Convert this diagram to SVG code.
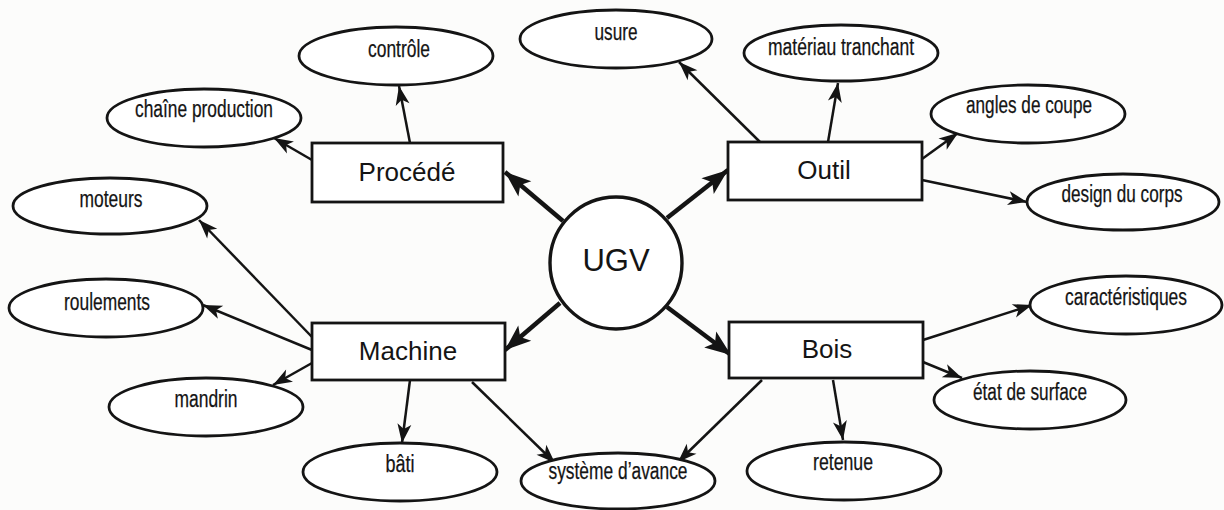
<svg xmlns="http://www.w3.org/2000/svg" width="1224" height="510" viewBox="0 0 1224 510">
<defs>
<style>
.bg{fill:#fcfcfb}
.ell{fill:#ffffff;stroke:#141414;stroke-width:2.8}
.box{fill:#ffffff;stroke:#141414;stroke-width:2.8}
.circ{fill:#ffffff;stroke:#141414;stroke-width:3.4}
.lbl{font-family:"Liberation Sans",Arial,sans-serif;font-size:23px;fill:#141414;stroke:#141414;stroke-width:0.25;text-anchor:middle}
.blbl{font-family:"Liberation Sans",Arial,sans-serif;font-size:26px;fill:#141414;text-anchor:middle}
.ulbl{font-family:"Liberation Sans",Arial,sans-serif;font-size:31px;fill:#141414;text-anchor:middle}
.thin{stroke:#141414;stroke-width:2.5;fill:none;marker-end:url(#ah)}
.thick{stroke:#141414;stroke-width:4.5;fill:none;marker-end:url(#ahb)}
</style>
<marker id="ah" markerUnits="userSpaceOnUse" markerWidth="26" markerHeight="18" viewBox="-22 -9 26 18" refX="0" refY="0" orient="auto">
<path d="M0,0 L-19,-7 L-14,0 L-19,7 Z" fill="#141414"/>
</marker>
<marker id="ahb" markerUnits="userSpaceOnUse" markerWidth="32" markerHeight="24" viewBox="-28 -12 32 24" refX="0" refY="0" orient="auto">
<path d="M0,0 L-26,-10 L-20,0 L-26,10 Z" fill="#141414"/>
</marker>
</defs>
<rect class="bg" x="0" y="0" width="1224" height="510"/>

<g id="connectors">
<line class="thick" x1="563" y1="221" x2="505" y2="172"/>
<line class="thick" x1="667" y1="218" x2="728" y2="170"/>
<line class="thick" x1="560" y1="303" x2="505" y2="350"/>
<line class="thick" x1="667" y1="307" x2="731" y2="355"/>
<line class="thin" x1="312" y1="160" x2="274" y2="138"/>
<line class="thin" x1="410" y1="143" x2="399" y2="86"/>
<line class="thin" x1="760" y1="142" x2="679" y2="62"/>
<line class="thin" x1="828" y1="142" x2="838" y2="83"/>
<line class="thin" x1="922" y1="159" x2="958" y2="133"/>
<line class="thin" x1="922" y1="180" x2="1027" y2="202"/>
<line class="thin" x1="312" y1="337" x2="199" y2="220"/>
<line class="thin" x1="312" y1="350" x2="203" y2="305"/>
<line class="thin" x1="312" y1="363" x2="273" y2="385"/>
<line class="thin" x1="410" y1="380" x2="402" y2="443"/>
<line class="thin" x1="472" y1="382" x2="555" y2="463"/>
<line class="thin" x1="762" y1="380" x2="678" y2="462"/>
<line class="thin" x1="833" y1="380" x2="843" y2="440"/>
<line class="thin" x1="923" y1="340" x2="1032" y2="305"/>
<line class="thin" x1="923" y1="362" x2="962" y2="378"/>
</g>

<g id="ugv">
<circle class="circ" cx="616" cy="263" r="66"/>
<text class="ulbl" x="616" y="271">UGV</text>
</g>

<g id="procede">
<rect class="box" x="312" y="143" width="191" height="59"/>
<text class="blbl" x="407" y="181">Procédé</text>
</g>
<g id="outil">
<rect class="box" x="728" y="142" width="194" height="58"/>
<text class="blbl" x="824" y="179">Outil</text>
</g>
<g id="machine">
<rect class="box" x="312" y="323" width="193" height="57"/>
<text class="blbl" x="408" y="360">Machine</text>
</g>
<g id="bois">
<rect class="box" x="729" y="322" width="194" height="56"/>
<text class="blbl" x="827" y="358">Bois</text>
</g>

<g id="controle">
<ellipse class="ell" cx="396" cy="56" rx="97" ry="29"/>
<text class="lbl" x="399" y="57" textLength="62" lengthAdjust="spacingAndGlyphs">contrôle</text>
</g>
<g id="chaine-production">
<ellipse class="ell" cx="204" cy="118" rx="97" ry="29"/>
<text class="lbl" x="204" y="117" textLength="138" lengthAdjust="spacingAndGlyphs">chaîne production</text>
</g>
<g id="moteurs">
<ellipse class="ell" cx="110" cy="206" rx="97" ry="28"/>
<text class="lbl" x="111" y="207" textLength="63" lengthAdjust="spacingAndGlyphs">moteurs</text>
</g>
<g id="usure">
<ellipse class="ell" cx="616" cy="39" rx="96" ry="29"/>
<text class="lbl" x="616" y="40" textLength="43" lengthAdjust="spacingAndGlyphs">usure</text>
</g>
<g id="materiau-tranchant">
<ellipse class="ell" cx="841" cy="53" rx="97" ry="28"/>
<text class="lbl" x="841" y="55" textLength="146" lengthAdjust="spacingAndGlyphs">matériau tranchant</text>
</g>
<g id="angles-de-coupe">
<ellipse class="ell" cx="1028" cy="114" rx="97" ry="29"/>
<text class="lbl" x="1029" y="113" textLength="126" lengthAdjust="spacingAndGlyphs">angles de coupe</text>
</g>
<g id="design-du-corps">
<ellipse class="ell" cx="1123" cy="202" rx="96" ry="28"/>
<text class="lbl" x="1122" y="202" textLength="121" lengthAdjust="spacingAndGlyphs">design du corps</text>
</g>
<g id="roulements">
<ellipse class="ell" cx="106" cy="308" rx="97" ry="29"/>
<text class="lbl" x="107" y="310" textLength="86" lengthAdjust="spacingAndGlyphs">roulements</text>
</g>
<g id="mandrin">
<ellipse class="ell" cx="206" cy="407" rx="97" ry="29"/>
<text class="lbl" x="206" y="407" textLength="63" lengthAdjust="spacingAndGlyphs">mandrin</text>
</g>
<g id="bati">
<ellipse class="ell" cx="400" cy="472" rx="97" ry="29"/>
<text class="lbl" x="400" y="472" textLength="29" lengthAdjust="spacingAndGlyphs">bâti</text>
</g>
<g id="systeme-avance">
<ellipse class="ell" cx="618" cy="481" rx="97" ry="28"/>
<text class="lbl" x="618" y="479" textLength="139" lengthAdjust="spacingAndGlyphs">système d’avance</text>
</g>
<g id="retenue">
<ellipse class="ell" cx="844" cy="471" rx="97" ry="29"/>
<text class="lbl" x="843" y="470" textLength="60" lengthAdjust="spacingAndGlyphs">retenue</text>
</g>
<g id="caracteristiques">
<ellipse class="ell" cx="1126" cy="305" rx="96" ry="29"/>
<text class="lbl" x="1126" y="305" textLength="122" lengthAdjust="spacingAndGlyphs">caractéristiques</text>
</g>
<g id="etat-de-surface">
<ellipse class="ell" cx="1030" cy="400" rx="96" ry="29"/>
<text class="lbl" x="1030" y="400" textLength="114" lengthAdjust="spacingAndGlyphs">état de surface</text>
</g>
</svg>
